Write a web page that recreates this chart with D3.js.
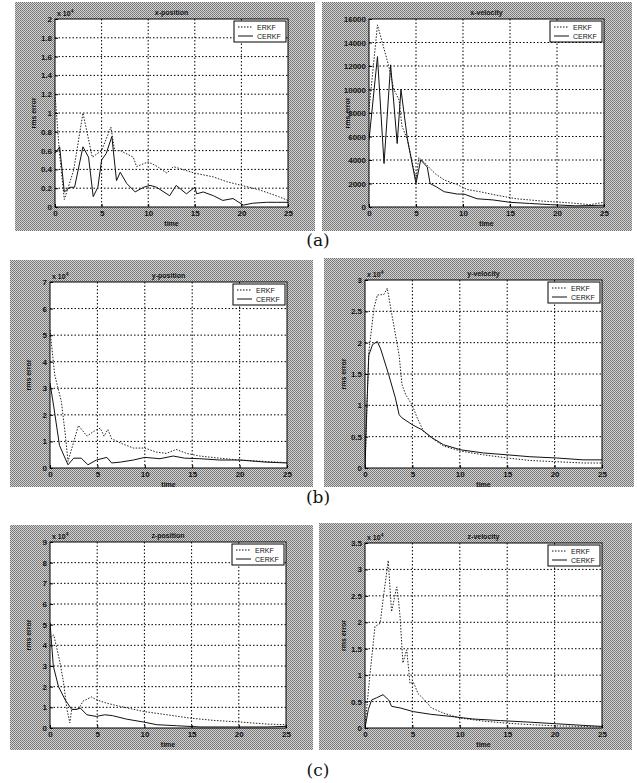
<!DOCTYPE html>
<html>
<head>
<meta charset="utf-8">
<script src="https://cdn.jsdelivr.net/npm/d3@7"></script>
<style>
  body { margin: 0; background: #fff; }
  svg { display: block; }
  .tick text { font-family: "Liberation Sans", sans-serif; font-size: 8px; font-weight: bold; fill: #111; }
  .small { font-family: "Liberation Sans", sans-serif; font-size: 7px; fill: #111; }
  .caption { font-family: "DejaVu Serif", serif; font-size: 17px; fill: #111; }
</style>
</head>
<body>
<div id="canvas"></div>
<script>
// ---- data (rms error vs time) ----
const panelTitles = ["x-position", "x-velocity", "y-position", "y-velocity", "z-position", "z-velocity"];
const yMax = [2, 16000, 7, 3, 9, 3.5];
const yStep = [0.2, 2000, 1, 0.5, 1, 0.5];
const yExponent = ["4", null, "4", "4", "4", "4"];
const xTicks = [0, 5, 10, 15, 20, 25];
const seriesNames = ["ERKF", "CERKF"];
const captions = ["(a)", "(b)", "(c)"];

const xPosErkf = [[0,1.2],[0.5,0.55],[1,0.08],[2,0.39],[3,1.0],[4,0.53],[5,0.6],[6,0.85],[6.4,0.6],[7,0.6],[8.4,0.53],[8.75,0.43],[10,0.48],[11,0.43],[12,0.36],[12.7,0.43],[14,0.39],[15,0.36],[17,0.32],[18.4,0.27],[20,0.23],[22,0.18],[24,0.11],[25,0.07]];
const xPosCerkf = [[0,0.57],[0.5,0.64],[1,0.16],[1.6,0.21],[2.1,0.21],[3,0.64],[3.6,0.53],[4.1,0.11],[4.6,0.21],[5,0.5],[5.5,0.57],[6.1,0.75],[6.6,0.28],[7,0.37],[7.7,0.25],[8.6,0.16],[9.5,0.21],[10.2,0.23],[10.9,0.21],[12.3,0.12],[13,0.23],[14.1,0.14],[15,0.21],[15.2,0.14],[15.9,0.16],[17,0.12],[18,0.07],[19.1,0.09],[20.2,0.02],[21.2,0.04],[22.7,0.05],[23.8,0.05],[25,0.05]];
const xVelErkf = [[0,8300],[0.9,15500],[2.1,12000],[2.65,10000],[3.2,9100],[3.5,6900],[4.1,5700],[5,2300],[5.3,4200],[6,3700],[6.7,3100],[7.1,2800],[8,2300],[9.4,1900],[10.4,1500],[11.8,1300],[13.6,1000],[15.7,700],[18.5,500],[21.4,350],[23.5,200],[25,400]];
const xVelCerkf = [[0,5700],[0.9,12800],[1.6,3700],[2.3,12100],[3,5400],[3.4,10000],[4.1,5700],[5,2000],[5.5,4000],[6.2,3400],[6.5,2000],[7.2,1700],[8,1300],[9.4,1100],[10.1,1100],[11.5,700],[13.2,600],[15,400],[17.1,300],[19.3,200],[22,100],[25,150]];
const yPosErkf = [[0,5.2],[0.5,3.5],[1.2,2.5],[1.6,1.3],[1.9,0.25],[3,1.6],[3.9,1.2],[4.7,1.4],[5.3,1.5],[5.7,1.2],[6.1,1.45],[6.5,1.1],[7.7,0.9],[8.8,0.75],[10,0.75],[11.2,0.6],[12.3,0.55],[13.3,0.7],[14.4,0.55],[15.8,0.45],[17.9,0.37],[20,0.3],[22.5,0.25],[25,0.2]];
const yPosCerkf = [[0,3.2],[0.4,2.3],[1,0.85],[1.9,0.12],[2.5,0.37],[3.3,0.37],[4,0.12],[4.9,0.3],[6,0.4],[6.5,0.19],[7.4,0.22],[8.8,0.3],[10,0.4],[11.6,0.35],[13,0.45],[14.2,0.37],[15.8,0.35],[17.9,0.3],[20,0.3],[22.8,0.22],[25,0.19]];
const yVelErkf = [[0,0],[0.4,1.85],[0.95,2.55],[1.3,2.76],[2,2.77],[2.35,2.87],[2.9,2.39],[3.4,1.97],[3.6,1.8],[3.9,1.33],[4.3,1.17],[5,1.0],[5.5,0.8],[6.2,0.58],[7.3,0.45],[8.3,0.35],[10.1,0.27],[12.5,0.21],[15,0.16],[17.4,0.12],[20.2,0.1],[23,0.08],[25,0.08]];
const yVelCerkf = [[0,0],[0.2,1.0],[0.4,1.8],[0.8,1.97],[1.3,2.02],[1.65,1.9],[2.5,1.49],[3.2,1.12],[3.6,0.85],[3.9,0.8],[5,0.69],[6,0.61],[7.1,0.48],[8.3,0.37],[10.1,0.29],[12.5,0.24],[15,0.21],[17.4,0.18],[20.2,0.16],[23,0.13],[25,0.13]];
const zPosErkf = [[0,4.4],[0.4,4.5],[1,3.3],[1.4,2.3],[1.8,0.9],[2.1,0.25],[2.3,0.9],[3,0.9],[3.5,1.3],[4.4,1.5],[4.9,1.37],[6,1.2],[7.4,1.05],[9.9,0.8],[12.4,0.64],[14.8,0.48],[17.3,0.37],[20.1,0.29],[23,0.19],[25,0.16]];
const zPosCerkf = [[0,5.1],[0.35,3.0],[0.9,2.0],[1.6,1.37],[2.3,0.9],[2.8,0.9],[3.2,0.97],[3.9,0.64],[4.9,0.56],[5.8,0.64],[6.6,0.6],[8.1,0.43],[9.9,0.29],[11.3,0.16],[13.4,0.11],[15.9,0.05],[19.4,0.05],[23,0.05],[25,0.08]];
const zVelErkf = [[0,0.03],[0.5,0.97],[1.05,1.92],[1.6,1.98],[1.9,2.42],[2.45,3.17],[2.8,2.2],[3.35,2.67],[3.5,2.48],[3.7,2.1],[4,1.23],[4.4,1.48],[4.75,0.84],[5.1,0.87],[5.6,0.65],[6.3,0.53],[7,0.38],[8.3,0.28],[10,0.19],[12.5,0.13],[15,0.09],[17.8,0.06],[20.2,0.04],[23,0.03],[25,0.02]];
const zVelCerkf = [[0,0],[0.35,0.35],[0.7,0.53],[1.2,0.57],[1.9,0.63],[2.5,0.53],[2.8,0.41],[3.7,0.38],[5.1,0.31],[6.9,0.26],[9,0.22],[11.4,0.17],[14.3,0.14],[17.4,0.11],[20.2,0.08],[23,0.05],[25,0.03]];

const erkfSeries = [xPosErkf, xVelErkf, yPosErkf, yVelErkf, zPosErkf, zVelErkf];
const cerkfSeries = [xPosCerkf, xVelCerkf, yPosCerkf, yVelCerkf, zPosCerkf, zVelCerkf];

// ---- layout: gray frame [x,y,w,h] and plot box [x,y,w,h] ----
const layout = [
  { frame: [15, 2, 300, 229],  plot: [55, 19, 233, 188] },
  { frame: [322, 2, 310, 229], plot: [369, 19, 235, 188] },
  { frame: [10, 260, 303, 227], plot: [50, 282, 237, 186] },
  { frame: [324, 258, 310, 229], plot: [365, 280, 237, 188] },
  { frame: [10, 525, 303, 225], plot: [50, 542, 236, 186] },
  { frame: [319, 523, 313, 227], plot: [365, 543, 237, 185] }
];
const captionY = [246, 503, 776];

const w = 637, h = 783;
const svg = d3.select("#canvas").append("svg")
  .attr("width", w).attr("height", h)
  .attr("viewBox", [0, 0, w, h]);

// dithered gray of the scanned figure
const defs = svg.append("defs");
const pat = defs.append("pattern")
  .attr("id", "dither").attr("width", 2).attr("height", 2)
  .attr("patternUnits", "userSpaceOnUse");
pat.append("rect").attr("width", 2).attr("height", 2).attr("fill", "#d4d4d4");
pat.append("rect").attr("x", 0).attr("y", 0).attr("width", 1).attr("height", 1).attr("fill", "#727272");
pat.append("rect").attr("x", 1).attr("y", 1).attr("width", 1).attr("height", 1).attr("fill", "#808080");

layout.forEach((L, i) => drawPanel(i, L));

svg.selectAll("text.caption")
  .data(captions)
  .enter().append("text")
    .attr("class", "caption")
    .attr("x", 318)
    .attr("y", (d, i) => captionY[i])
    .attr("text-anchor", "middle")
    .text(d => d);

function drawPanel(i, L) {
  const [fx, fy, fw, fh] = L.frame;
  const [px, py, pw, ph] = L.plot;

  svg.append("rect")
    .attr("x", fx).attr("y", fy).attr("width", fw).attr("height", fh)
    .attr("fill", "url(#dither)");

  const g = svg.append("g").attr("transform", "translate(" + px + "," + py + ")");
  g.append("rect").attr("width", pw).attr("height", ph).attr("fill", "#fff");

  const x = d3.scaleLinear().domain([0, 25]).range([0, pw]);
  const y = d3.scaleLinear().domain([0, yMax[i]]).range([ph, 0]);
  const yTicks = d3.range(0, yMax[i] + yStep[i] / 2, yStep[i]).map(v => +v.toFixed(4));

  // grid
  g.selectAll("line.gx")
    .data(xTicks.slice(1, -1))
    .enter().append("line")
      .attr("x1", d => x(d)).attr("x2", d => x(d))
      .attr("y1", 0).attr("y2", ph)
      .attr("stroke", "#000").attr("stroke-width", 1)
      .attr("stroke-dasharray", "1.5,2");
  g.selectAll("line.gy")
    .data(yTicks.slice(1, -1))
    .enter().append("line")
      .attr("x1", 0).attr("x2", pw)
      .attr("y1", d => y(d)).attr("y2", d => y(d))
      .attr("stroke", "#000").attr("stroke-width", 1)
      .attr("stroke-dasharray", "1.5,2");

  // series
  const clipId = "clip" + i;
  defs.append("clipPath").attr("id", clipId)
    .append("rect").attr("width", pw).attr("height", ph);
  const line = d3.line().x(d => x(d[0])).y(d => y(d[1]));
  g.append("path")
    .datum(erkfSeries[i])
    .attr("clip-path", "url(#" + clipId + ")")
    .attr("fill", "none").attr("stroke", "#222").attr("stroke-width", 1)
    .attr("stroke-dasharray", "1.5,1.5")
    .attr("d", line);
  g.append("path")
    .datum(cerkfSeries[i])
    .attr("clip-path", "url(#" + clipId + ")")
    .attr("fill", "none").attr("stroke", "#111").attr("stroke-width", 1)
    .attr("d", line);

  // axes
  const xAxis = d3.axisBottom(x).tickValues(xTicks).tickSize(-3).tickPadding(3).tickFormat(d => d);
  const yAxis = d3.axisLeft(y).tickValues(yTicks).tickSize(-3).tickPadding(3).tickFormat(d => String(d));
  g.append("g").attr("transform", "translate(0," + ph + ")").call(xAxis)
    .call(a => a.select(".domain").remove());
  g.append("g").call(yAxis)
    .call(a => a.select(".domain").remove());
  g.append("rect").attr("width", pw).attr("height", ph)
    .attr("fill", "none").attr("stroke", "#000").attr("stroke-width", 1);

  // labels
  g.append("text").attr("class", "small")
    .attr("x", pw / 2).attr("y", -4).attr("text-anchor", "middle")
    .style("font-weight", "bold")
    .text(panelTitles[i]);
  g.append("text").attr("class", "small")
    .attr("x", pw / 2).attr("y", ph + 19).attr("text-anchor", "middle")
    .style("font-weight", "bold")
    .text("time");
  g.append("text").attr("class", "small")
    .attr("transform", "translate(-19," + (ph / 2) + ") rotate(-90)")
    .attr("text-anchor", "middle")
    .style("font-weight", "bold")
    .text("rms error");
  if (yExponent[i]) {
    const t = g.append("text").attr("class", "small").attr("x", 2).attr("y", -3)
      .style("font-weight", "bold");
    t.append("tspan").text("x 10");
    t.append("tspan").attr("dy", -3).style("font-size", "5px").text(yExponent[i]);
  }

  // legend
  const lw = 52, lh = 21;
  const lg = g.append("g").attr("transform", "translate(" + (pw - lw - 2) + ",2)");
  lg.append("rect").attr("width", lw).attr("height", lh)
    .attr("fill", "#fff").attr("stroke", "#000").attr("stroke-width", 1);
  lg.selectAll("g.item")
    .data(seriesNames)
    .enter().append("g")
      .attr("transform", (d, k) => "translate(0," + (6 + k * 9) + ")")
      .each(function (d, k) {
        const it = d3.select(this);
        it.append("line").attr("x1", 4).attr("x2", 19).attr("y1", 0).attr("y2", 0)
          .attr("stroke", "#111").attr("stroke-width", 1)
          .attr("stroke-dasharray", k === 0 ? "1.5,1.5" : null);
        it.append("text").attr("class", "small").attr("x", 23).attr("y", 2.5).text(d);
      });
}
</script>
</body>
</html>
